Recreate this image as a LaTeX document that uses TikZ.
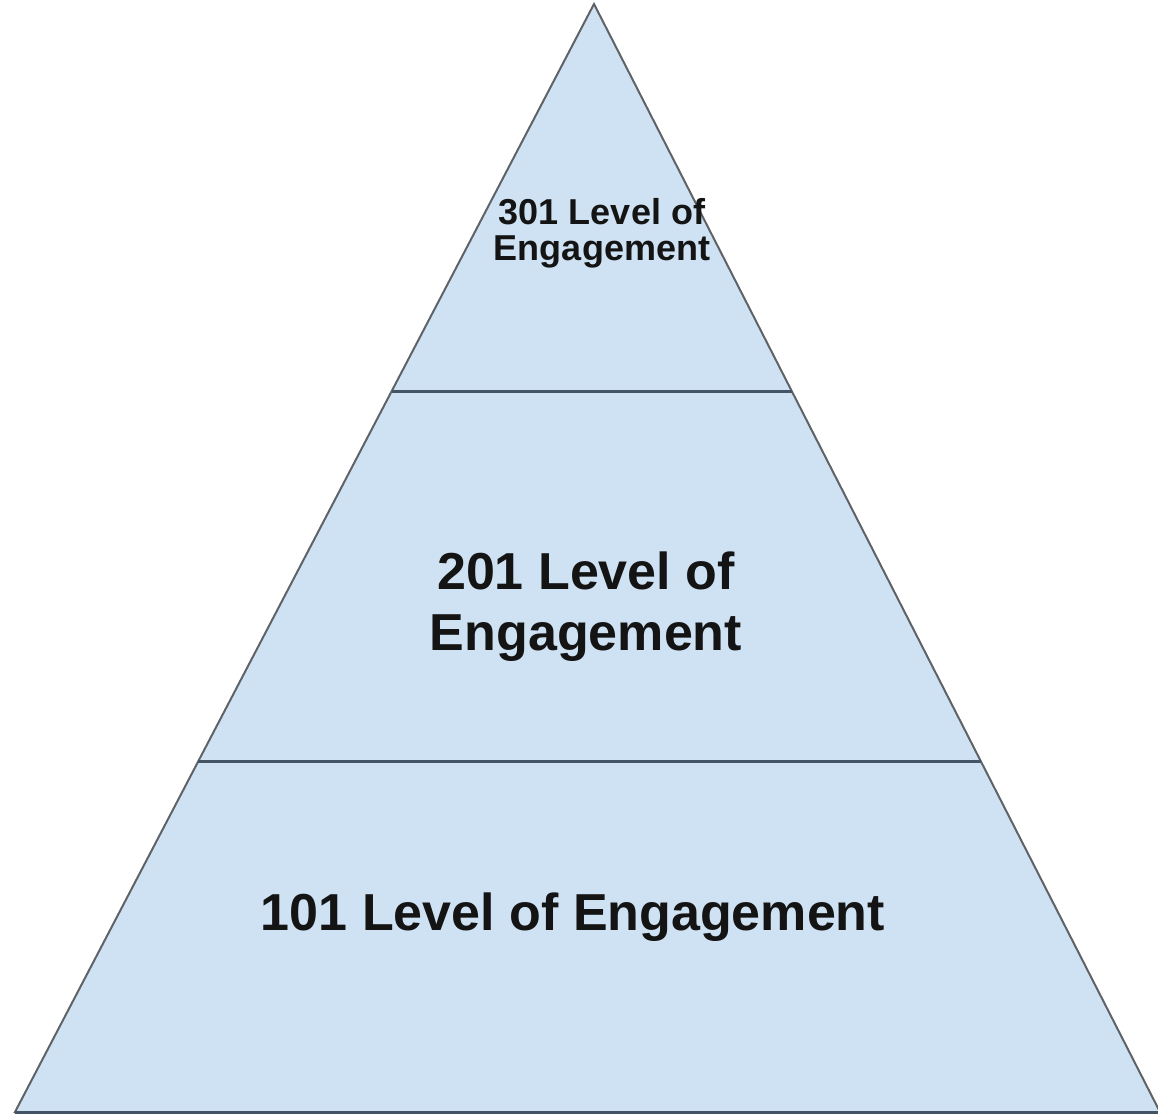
\documentclass[tikz,border=0pt]{standalone}
\usepackage{fontspec}
\setmainfont{Liberation Sans}
\usetikzlibrary{calc}
\definecolor{tierfill}{HTML}{CFE2F3}
\definecolor{edgegray}{HTML}{5F6368}
\definecolor{bandline}{HTML}{435466}
\tikzset{
  tier/.style={text=black!92, align=center, inner sep=0pt},
  band/.style={draw=bandline, line width=1.5pt},
}

\begin{document}
\begin{tikzpicture}[x=0.5pt, y=-0.5pt]
  \useasboundingbox (0,0) rectangle (1158,1117);
  % outline of the pyramid
  \coordinate (apex) at (594,4);
  \coordinate (bl) at (15,1112);
  \coordinate (br) at (1160,1112);
  \filldraw[fill=tierfill, draw=edgegray, line width=1pt]
    (apex) -- (bl) -- (br) -- cycle;
  \draw[band] (bl) -- (br);

  % borders between the tiers
  \coordinate (upL) at ($(bl)!0.6507!(apex)$);
  \coordinate (upR) at ($(br)!0.6507!(apex)$);
  \coordinate (loL) at ($(bl)!0.3159!(apex)$);
  \coordinate (loR) at ($(br)!0.3159!(apex)$);
  \draw[band] (upL) -- (upR);
  \draw[band] (loL) -- (loR);

  % tier labels
  \node[tier, font=\bfseries\fontsize{18}{18}\selectfont] (top) at (602,233)
    {301 Level of\\Engagement};
  \node[tier, font=\bfseries\fontsize{26}{30.5}\selectfont] (mid) at (586,607)
    {201 Level of\\Engagement};
  \node[tier, font=\bfseries\fontsize{26}{30.5}\selectfont] (low) at (573,917)
    {101 Level of Engagement};
\end{tikzpicture}
\end{document}
